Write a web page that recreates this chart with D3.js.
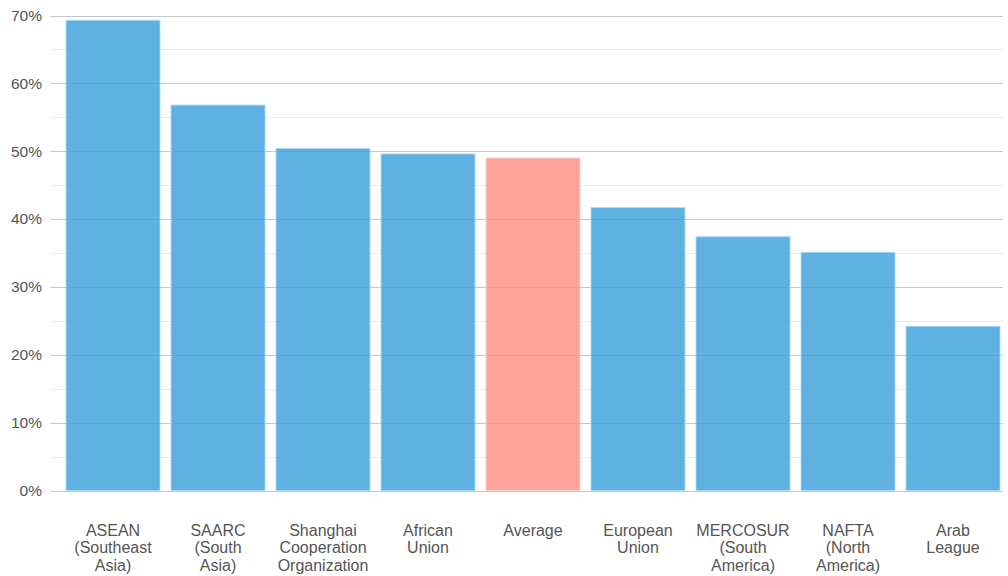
<!DOCTYPE html>
<html><head><meta charset="utf-8">
<script src="https://cdn.jsdelivr.net/npm/d3@7"></script>
<style>body{margin:0;background:#fff}svg{display:block;font-family:"Liberation Sans",Arial,sans-serif}</style>
</head><body><svg id="c" width="1008" height="576"></svg>
<script>
const categories = ["ASEAN\n(Southeast\nAsia)","SAARC\n(South\nAsia)","Shanghai\nCooperation\nOrganization","African\nUnion","Average","European\nUnion","MERCOSUR\n(South\nAmerica)","NAFTA\n(North\nAmerica)","Arab\nLeague"];
const values = [69.3, 56.8, 50.4, 49.6, 49.0, 41.7, 37.4, 35.1, 24.2];
const highlight = ["Average"];
const majorTicks = [0,10,20,30,40,50,60,70];
const minorTicks = [5,15,25,35,45,55,65];

const svg = d3.select("#c");
const y = d3.scaleLinear().domain([0,70]).range([490.5,15.5]);
const x = d3.scaleBand().domain(categories).range([60.5,1005.5]).paddingInner(0.105).paddingOuter(0.0525);
const gx0 = 50, gx1 = 1003;

svg.append("g").selectAll("line").data(minorTicks).join("line")
  .attr("x1",gx0).attr("x2",gx1).attr("y1",d=>Math.round(y(d))+0.5).attr("y2",d=>Math.round(y(d))+0.5)
  .attr("stroke","#ebebeb").attr("stroke-width",1.2);
svg.append("g").selectAll("line").data(majorTicks).join("line")
  .attr("x1",gx0).attr("x2",gx1).attr("y1",d=>Math.round(y(d))+0.5).attr("y2",d=>Math.round(y(d))+0.5)
  .attr("stroke","#c8c8c8").attr("stroke-width",1.2);

svg.append("g").selectAll("rect").data(categories).join("rect")
  .attr("x",d=>x(d)).attr("width",x.bandwidth())
  .attr("y",(d,i)=>y(values[i])).attr("height",(d,i)=>y(0)-y(values[i]))
  .attr("fill",d=>highlight.includes(d)?"#ff8f86":"#3aa0db")
  .attr("fill-opacity",0.82)
  .attr("stroke",d=>highlight.includes(d)?"#ffd0cc":"#a8dcf7").attr("stroke-width",1).attr("stroke-opacity",0.8);

svg.append("g").selectAll("text").data(majorTicks).join("text")
  .attr("x",42).attr("y",d=>y(d)).attr("dy","0.35em").attr("text-anchor","end")
  .attr("font-size",15.5).attr("fill","#555").text(d=>d+"%");

const lab = svg.append("g").selectAll("text").data(categories).join("text")
  .attr("x",d=>x(d)+x.bandwidth()/2).attr("y",535.5).attr("text-anchor","middle")
  .attr("font-size",16).attr("fill","#555");
lab.selectAll("tspan").data(d=>d.split("\n")).join("tspan")
  .attr("x",function(){return this.parentNode.getAttribute("x");})
  .attr("dy",(d,i)=>i?17.5:0).text(d=>d);
</script></body></html>
